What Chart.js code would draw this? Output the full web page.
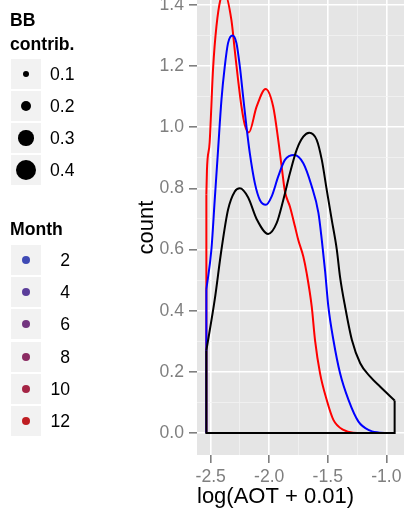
<!DOCTYPE html>
<html>
<head>
<meta charset="utf-8">
<script src="https://cdn.jsdelivr.net/npm/chart.js@4.4.0/dist/chart.umd.min.js"></script>
<style>
  body { margin: 0; background: #fff; font-family: 'Liberation Sans', Arial, sans-serif; }
  #wrap { position: relative; width: 404px; height: 508px; overflow: hidden; }
  #chartBox { position: absolute; left: 0; top: 0; width: 404px; height: 508px; }
  .ltitle { position: absolute; left: 10px; font-weight: bold; font-size: 17.6px; line-height: 24px; color: #000; }
  .key { position: absolute; left: 11px; width: 30px; height: 30px; background: #F2F2F2; }
  .dot { position: absolute; border-radius: 50%; }
  .lab { position: absolute; font-size: 17.6px; line-height: 30px; height: 30px; color: #000; }
</style>
</head>
<body>
<div id="wrap">
  <div id="chartBox"><canvas id="densityChart"></canvas></div>
  <div id="legend"></div>
</div>
<script>
'use strict';

// Density curves, x = log(AOT + 0.01), y = count
const redX = [-2.537, -2.532, -2.509, -2.48, -2.451, -2.408, -2.383, -2.323, -2.294, -2.266, -2.237, -2.209, -2.174,
              -2.108, -2.031, -1.966, -1.923, -1.894, -1.866, -1.823, -1.78, -1.752, -1.709, -1.68, -1.637, -1.609,
              -1.566, -1.509, -1.452, -1.366, -1.283, -1.1, -0.929];
const redY = [0.78, 0.86, 0.95, 1.19, 1.33, 1.43, 1.44, 1.35, 1.25, 1.155, 1.067, 1.008, 0.983,
              1.067, 1.125, 1.067, 0.958, 0.871, 0.79, 0.74, 0.675, 0.631, 0.577, 0.522, 0.413, 0.304,
              0.195, 0.108, 0.043, 0.01, 0.001, 0, 0];

const blueX = [-2.537, -2.494, -2.466, -2.437, -2.408, -2.38, -2.352, -2.314, -2.28, -2.251, -2.223, -2.194, -2.166,
               -2.123, -2.08, -2.029, -1.98, -1.923, -1.866, -1.786, -1.709, -1.64, -1.58, -1.551, -1.523, -1.495,
               -1.452, -1.395, -1.323, -1.238, -1.138, -1.052, -0.929];
const blueY = [0.47, 0.6, 0.76, 0.926, 1.09, 1.198, 1.275, 1.3, 1.275, 1.198, 1.1, 1.0, 0.915,
               0.817, 0.762, 0.746, 0.773, 0.839, 0.893, 0.909, 0.882, 0.81, 0.72, 0.631, 0.53, 0.413,
               0.304, 0.195, 0.108, 0.037, 0.0075, 0.001, 0];

const blackX = [-2.537, -2.466, -2.408, -2.352, -2.294, -2.251, -2.18, -2.108, -2.009, -1.937, -1.88, -1.823, -1.766,
                -1.709, -1.658, -1.594, -1.551, -1.509, -1.466, -1.423, -1.395, -1.352, -1.294, -1.223, -1.138,
                -1.052, -0.929];
const blackY = [0.27, 0.435, 0.6, 0.73, 0.79, 0.8, 0.77, 0.7, 0.651, 0.686, 0.762, 0.85, 0.926,
                0.969, 0.982, 0.958, 0.893, 0.795, 0.697, 0.6, 0.51, 0.413, 0.304, 0.228, 0.184,
                0.151, 0.106];

// Axis ticks
const xMajorTicks = [-2.5, -2.0, -1.5, -1.0];
const xMinorTicks = [-2.25, -1.75, -1.25];
const yMajorTicks = [0, 0.2, 0.4, 0.6, 0.8, 1.0, 1.2, 1.4];
const yMinorTicks = [0.1, 0.3, 0.5, 0.7, 0.9, 1.1, 1.3];

// Legends
const bbValues = [0.1, 0.2, 0.3, 0.4];
const monthValues = [2, 4, 6, 8, 10, 12];
const monthColors = ['#3F4AB5', '#5B3E9A', '#73357F', '#8B2B62', '#A52545', '#BF1E22'];

const TICK_GREY = '#7F7F7F';
Chart.defaults.font.family = "'Liberation Sans', Arial, sans-serif";

function toPoints(xs, ys) {
    return xs.map((x, i) => ({ x: x, y: ys[i] }));
}

// left side of the density polygon (and for the top one the baseline and right side)
function toFrame(xs, ys, closed) {
    const n = xs.length - 1;
    const pts = [{ x: xs[0], y: ys[0] }, { x: xs[0], y: 0 }];
    if (closed) pts.push({ x: xs[n], y: 0 }, { x: xs[n], y: ys[n] });
    return pts;
}

function curveSet(xs, ys, colour) {
    return {
        data: toPoints(xs, ys), borderColor: colour, borderWidth: 2,
        pointRadius: 0, cubicInterpolationMode: 'monotone', fill: false
    };
}

function frameSet(xs, ys, colour, closed) {
    return {
        data: toFrame(xs, ys, closed), borderColor: colour, borderWidth: 2,
        pointRadius: 0, tension: 0, fill: false, borderJoinStyle: 'miter'
    };
}

const panelBg = {
    id: 'panelBg',
    beforeDraw(chart) {
        const { ctx, chartArea: a } = chart;
        ctx.save();
        ctx.fillStyle = '#E5E5E5';
        ctx.fillRect(a.left, a.top, a.right - a.left, a.bottom - a.top);
        ctx.restore();
    }
};

function gridOpts(major) {
    return {
        color: c => (c.tick && major.includes(c.tick.value)) ? '#FFFFFF' : '#F2F2F2',
        lineWidth: c => (c.tick && major.includes(c.tick.value)) ? 1.6 : 0.8,
        tickColor: c => (c.tick && major.includes(c.tick.value)) ? TICK_GREY : 'rgba(0,0,0,0)',
        tickWidth: 1.6,
        tickLength: 8
    };
}

function graphInit() {
    const ctx = document.getElementById('densityChart').getContext('2d');
    return new Chart(ctx, {
        type: 'line',
        data: {
            // first dataset is painted on top
            datasets: [
                curveSet(blackX, blackY, '#000000'),
                frameSet(blackX, blackY, '#000000', true),
                curveSet(blueX, blueY, '#0000FF'),
                frameSet(blueX, blueY, '#0000FF', false),
                curveSet(redX, redY, '#FF0000'),
                frameSet(redX, redY, '#FF0000', false)
            ]
        },
        options: {
            responsive: true,
            maintainAspectRatio: false,
            animation: false,
            layout: { padding: { left: 134, top: 0, right: 0, bottom: 0 } },
            plugins: { legend: { display: false }, tooltip: { enabled: false } },
            scales: {
                x: {
                    type: 'linear',
                    min: -2.617,
                    max: -0.849,
                    afterBuildTicks: s => { s.ticks = xMajorTicks.concat(xMinorTicks).sort((a, b) => a - b).map(v => ({ value: v })); },
                    afterFit: s => { s.height = 53; s.paddingLeft = 0; s.paddingRight = 0; },
                    border: { display: false },
                    grid: gridOpts(xMajorTicks),
                    ticks: {
                        autoSkip: false, maxRotation: 0, padding: 4,
                        color: TICK_GREY, font: { size: 17.6 },
                        callback: v => xMajorTicks.includes(v) ? v.toFixed(1) : ''
                    },
                    title: {
                        display: true, text: 'log(AOT + 0.01)', align: 'start',
                        color: '#000', font: { size: 22, lineHeight: 1 }, padding: 0
                    }
                },
                y: {
                    type: 'linear',
                    min: -0.072,
                    max: 1.416,
                    afterBuildTicks: s => { s.ticks = yMajorTicks.concat(yMinorTicks).sort((a, b) => a - b).map(v => ({ value: v })); },
                    afterFit: s => { s.width = 63; s.paddingTop = 0; s.paddingBottom = 0; },
                    border: { display: false },
                    grid: gridOpts(yMajorTicks),
                    ticks: {
                        autoSkip: false, padding: 5,
                        color: TICK_GREY, font: { size: 17.6 },
                        callback: v => yMajorTicks.includes(v) ? v.toFixed(1) : ''
                    },
                    title: {
                        display: true, text: 'count',
                        color: '#000', font: { size: 22, lineHeight: 1.2 }, padding: 0
                    }
                }
            }
        },
        plugins: [panelBg]
    });
}

function addEl(parent, cls, style, text) {
    const el = document.createElement('div');
    el.className = cls;
    Object.assign(el.style, style);
    if (text !== undefined) el.innerHTML = text;
    parent.appendChild(el);
    return el;
}

function legendInit() {
    const box = document.getElementById('legend');
    addEl(box, 'ltitle', { top: '8px' }, 'BB<br>contrib.');
    bbValues.forEach((v, i) => {
        const top = 59 + i * 32;
        const d = 1.5 + 46 * v;
        addEl(box, 'key', { top: top + 'px' });
        addEl(box, 'dot', {
            left: (26 - d / 2) + 'px', top: (top + 15 - d / 2) + 'px',
            width: d + 'px', height: d + 'px', background: '#000'
        });
        addEl(box, 'lab', { left: '50px', top: top + 'px' }, v.toFixed(1));
    });

    addEl(box, 'ltitle', { top: '217px' }, 'Month');
    monthValues.forEach((m, i) => {
        const top = Math.round(245 + i * 32.2);
        addEl(box, 'key', { top: top + 'px' });
        addEl(box, 'dot', {
            left: '22px', top: (top + 11) + 'px',
            width: '8px', height: '8px', background: monthColors[i]
        });
        addEl(box, 'lab', { left: '41px', width: '29px', textAlign: 'right', top: top + 'px' }, String(m));
    });
}

legendInit();
graphInit();
</script>
</body>
</html>
